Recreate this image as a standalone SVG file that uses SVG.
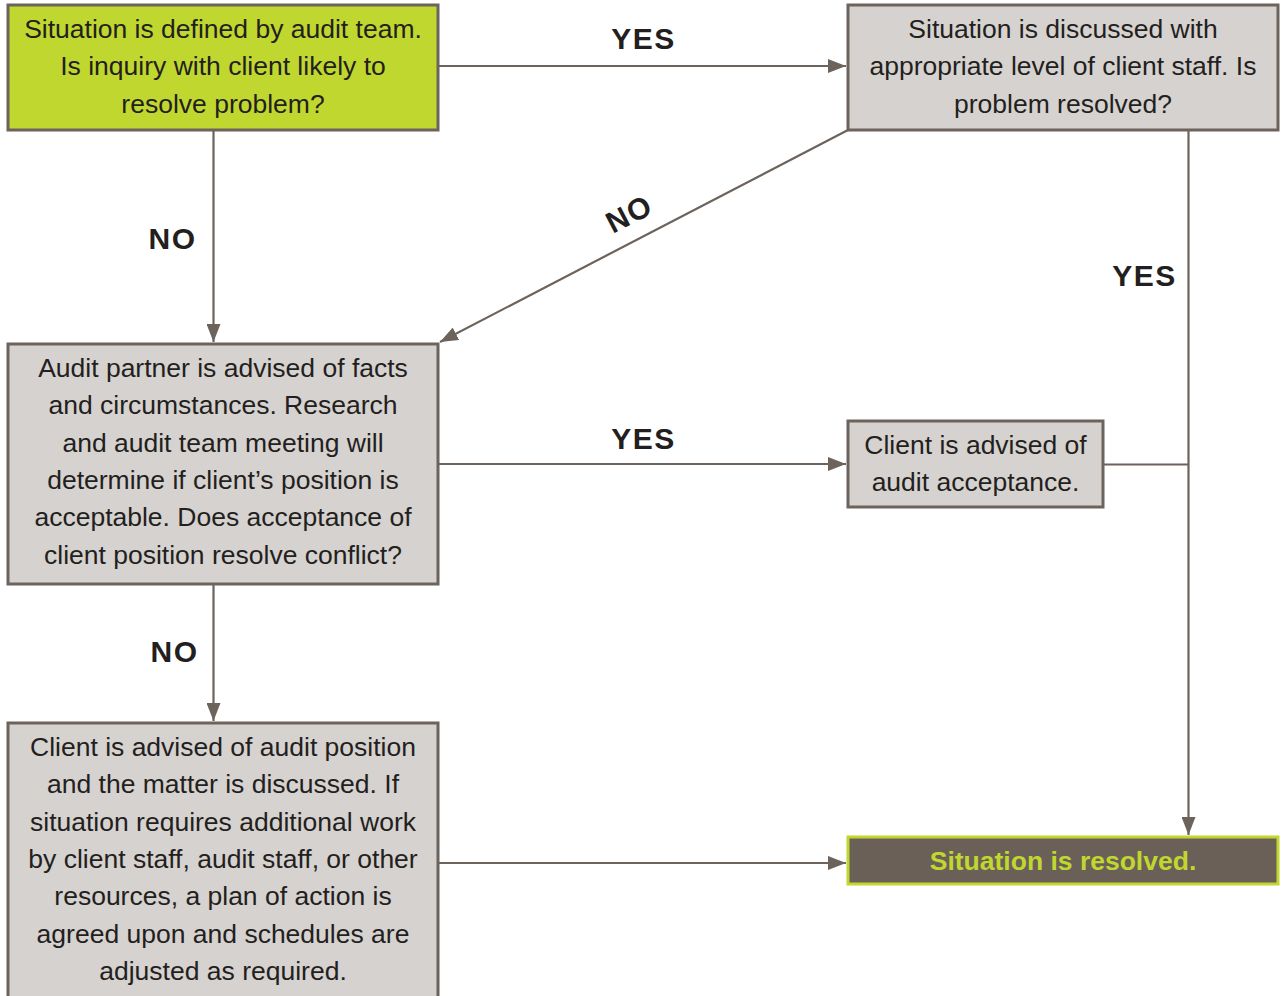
<svg xmlns="http://www.w3.org/2000/svg" width="1285" height="996" viewBox="0 0 1285 996">
<defs>
<marker id="arr" markerUnits="userSpaceOnUse" markerWidth="18" markerHeight="14" refX="18" refY="7" orient="auto">
<path d="M0,0 L18,7 L0,14 z" fill="#6c635c"/>
</marker>
<style>
.box{fill:#d6d2cf;stroke:#6c635c;stroke-width:3}
.green{fill:#c0d72f;stroke:#6c635c;stroke-width:3}
.res{fill:#6b6058;stroke:#c0d72f;stroke-width:3}
.t{font-family:"Liberation Sans",Arial,sans-serif;font-size:26.5px;fill:#231f20;text-anchor:middle}
.rt{font-family:"Liberation Sans",Arial,sans-serif;font-size:26.5px;font-weight:bold;fill:#c0d72f;text-anchor:middle}
.lbl{font-family:"Liberation Sans",Arial,sans-serif;font-size:30px;font-weight:bold;fill:#231f20;text-anchor:middle;letter-spacing:1.5px}
.c{fill:none;stroke:#6c635c;stroke-width:2.2}
</style>
</defs>
<rect width="1285" height="996" fill="#ffffff"/>
<g id="connectors">
<line class="c" x1="438" y1="66" x2="846" y2="66" marker-end="url(#arr)"/>
<line class="c" x1="213.5" y1="130" x2="213.5" y2="342" marker-end="url(#arr)"/>
<line class="c" x1="848" y1="130" x2="440" y2="342" marker-end="url(#arr)"/>
<line class="c" x1="1188.5" y1="130" x2="1188.5" y2="835" marker-end="url(#arr)"/>
<line class="c" x1="438" y1="464" x2="846" y2="464" marker-end="url(#arr)"/>
<line class="c" x1="1103" y1="464.5" x2="1188.5" y2="464.5"/>
<line class="c" x1="213.5" y1="584" x2="213.5" y2="721" marker-end="url(#arr)"/>
<line class="c" x1="438" y1="863" x2="846" y2="863" marker-end="url(#arr)"/>
<text class="lbl" x="643.5" y="49">YES</text>
<text class="lbl" x="172.5" y="249">NO</text>
<text class="lbl" transform="translate(634,223) rotate(-27.6)" x="0" y="0">NO</text>
<text class="lbl" x="1144.5" y="286">YES</text>
<text class="lbl" x="643.5" y="449">YES</text>
<text class="lbl" x="174.5" y="662">NO</text>
</g>
<g id="n1">
<rect class="green" x="8" y="5" width="430" height="125"/>
<text class="t" x="223" y="37.5">Situation is defined by audit team.</text>
<text class="t" x="223" y="75">Is inquiry with client likely to</text>
<text class="t" x="223" y="112.5">resolve problem?</text>
</g>
<g id="n2">
<rect class="box" x="848" y="5" width="430" height="125"/>
<text class="t" x="1063" y="37.5">Situation is discussed with</text>
<text class="t" x="1063" y="75">appropriate level of client staff. Is</text>
<text class="t" x="1063" y="112.5">problem resolved?</text>
</g>
<g id="n3">
<rect class="box" x="8" y="344" width="430" height="240"/>
<text class="t" x="223" y="376.5">Audit partner is advised of facts</text>
<text class="t" x="223" y="414">and circumstances. Research</text>
<text class="t" x="223" y="451.5">and audit team meeting will</text>
<text class="t" x="223" y="488.5">determine if client’s position is</text>
<text class="t" x="223" y="526">acceptable. Does acceptance of</text>
<text class="t" x="223" y="563.5">client position resolve conflict?</text>
</g>
<g id="n4">
<rect class="box" x="848" y="421" width="255" height="86"/>
<text class="t" x="975.5" y="453.5">Client is advised of</text>
<text class="t" x="975.5" y="490.5">audit acceptance.</text>
</g>
<g id="n5">
<rect class="box" x="8" y="723" width="430" height="285"/>
<text class="t" x="223" y="755.5">Client is advised of audit position</text>
<text class="t" x="223" y="793">and the matter is discussed. If</text>
<text class="t" x="223" y="830.5">situation requires additional work</text>
<text class="t" x="223" y="867.5">by client staff, audit staff, or other</text>
<text class="t" x="223" y="905">resources, a plan of action is</text>
<text class="t" x="223" y="942.5">agreed upon and schedules are</text>
<text class="t" x="223" y="979.5">adjusted as required.</text>
</g>
<g id="n6">
<rect class="res" x="848" y="837" width="430" height="47"/>
<text class="rt" x="1063" y="869.5">Situation is resolved.</text>
</g>
</svg>
